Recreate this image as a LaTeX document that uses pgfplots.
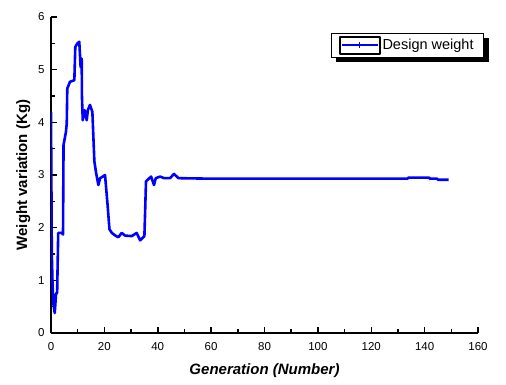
\documentclass[border=0pt]{standalone}
\usepackage{pgfplots}
\pgfplotsset{compat=1.18}
\usepackage{fontspec}
\setmainfont{Liberation Sans}
\usetikzlibrary{backgrounds}
\begin{document}
\begin{tikzpicture}[x=1pt,y=1pt]
\useasboundingbox (0,0) rectangle (506,384);
\begin{axis}[
  at={(51pt,51pt)}, anchor=origin,
  scale only axis, width=427pt, height=316pt,
  xmin=0, xmax=160, ymin=0, ymax=6,
  axis x line*=bottom, axis y line*=left,
  axis line style={line width=1.8pt, -},
  xtick={0,20,...,160}, ytick={0,1,...,6},
  minor xtick={10,30,...,150}, minor ytick={0.5,1.5,...,5.5},
  tick align=inside,
  major tick length=6pt, minor tick length=4pt,
  every tick/.style={black, line width=1.5pt},
  tick label style={font=\fontsize{11.5}{13}\selectfont},
  xticklabel style={yshift=-6pt},
  yticklabel style={xshift=-3pt},
  /pgf/number format/assume math mode=true,
  xlabel={\textbf{\textit{Generation (Number)}}},
  ylabel={\textbf{Weight variation (Kg)}},
  label style={font=\fontsize{15}{17}\selectfont},
  xlabel style={yshift=-6pt},
  ylabel style={yshift=1pt},
  legend style={at={(rel axis cs:1.014,0.949)}, anchor=north east, name=leg,
    draw=black, line width=0.8pt, fill=white,
    font=\fontsize{14.5}{16}\selectfont, inner xsep=8pt, inner ysep=2.5pt},
  legend image code/.code={
    \draw[black, line width=1.5pt] (0pt,-8.5pt) rectangle (40pt,8.5pt);
    \draw[blue, line width=2pt] (2pt,0pt) -- (38pt,0pt);
    \draw[blue, line width=0.8pt] (20pt,-3pt) -- (20pt,3pt);
  },
]
\addplot[blue, line width=2.6pt, line join=round] coordinates {
(0,4.2) (0.3,1.5) (0.6,0.9) (0.9,0.55) (1.4,0.38) (1.9,0.75) (2.3,0.76) (2.7,1.9)
(4.0,1.9) (4.5,1.87) (4.7,3.57) (5.6,3.82) (5.9,3.98) (6.1,4.64) (7.1,4.77) (8.75,4.8)
(9.1,5.43) (9.9,5.5) (10.6,5.53) (11.1,5.05) (11.5,5.21) (11.6,4.48) (11.9,4.04)
(12.6,4.23) (13.4,4.04) (13.8,4.23) (14.6,4.33) (15.5,4.2) (16.25,3.26) (16.9,3.04)
(17.75,2.81) (18.4,2.94) (19.4,2.97) (20.25,3.0) (21.25,2.4) (21.9,1.97) (22.8,1.9)
(24.4,1.84) (25.25,1.82) (26.5,1.9) (27.75,1.85) (30.25,1.84) (32.1,1.9) (33.4,1.76)
(35,1.84) (35.6,2.88) (37.5,2.97) (38.6,2.81) (39.25,2.94) (40.9,2.97) (42.4,2.94)
(44.6,2.94) (46.1,3.02) (47.75,2.94) (60,2.93) (80,2.93) (100,2.93) (120,2.93)
(133.5,2.93) (134,2.95) (141.7,2.95) (142,2.93) (144.7,2.93) (145,2.91) (149,2.91)
};
\addlegendentry{Design weight}
\end{axis}
\begin{scope}[on background layer]
\fill[black] ([shift={(5pt,-5pt)}]leg.south west) rectangle ([shift={(5pt,-5pt)}]leg.north east);
\end{scope}
\end{tikzpicture}
\end{document}
